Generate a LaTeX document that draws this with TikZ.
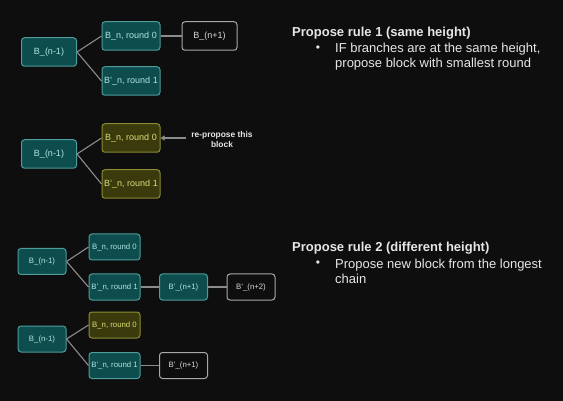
\documentclass[tikz,border=0pt]{standalone}
\usepackage{fontspec}
\setmainfont{Liberation Sans}
\usetikzlibrary{arrows.meta}
\definecolor{bg}{HTML}{0E0E0E}
\definecolor{tealfill}{HTML}{0E4D4D}
\definecolor{tealline}{HTML}{4E9C9C}
\definecolor{tealtext}{HTML}{B0E4E4}
\definecolor{yelfill}{HTML}{3A3A0C}
\definecolor{yelline}{HTML}{8C8C34}
\definecolor{yeltext}{HTML}{DEDE78}
\definecolor{blkline}{HTML}{A8A8A8}
\definecolor{blktext}{HTML}{D8D8D8}
\definecolor{edgecol}{HTML}{8C8C8C}
\definecolor{txt}{HTML}{E6E6E6}
\tikzset{
  x=1pt,y=-1pt,
  blk/.style={rectangle,rounded corners=3pt,line width=1pt,inner sep=0pt,font=\fontsize{9}{10}\selectfont},
  big/.style={minimum width=55pt,minimum height=28.5pt},
  small/.style={minimum width=48pt,minimum height=26pt,font=\fontsize{7.8}{9}\selectfont},
  tealb/.style={blk,draw=tealline,fill=tealfill,text=tealtext},
  yelb/.style={blk,draw=yelline,fill=yelfill,text=yeltext},
  blkb/.style={blk,draw=blkline,fill=bg,text=blktext},
  conn/.style={draw=edgecol,line width=1.1pt},
  head/.style={anchor=west,text=txt,inner sep=0pt,font=\fontsize{13}{15}\selectfont\bfseries},
  body/.style={anchor=west,text=txt,inner sep=0pt,font=\fontsize{13}{15}\selectfont,align=left},
}
\begin{document}
\begin{tikzpicture}
\fill[bg] (0,0) rectangle (563,401);
\useasboundingbox (0,0) rectangle (563,401);
% group 1
\node[tealb,big] (a1) at (49,52) {B\_(n-1)};
\node[tealb,big,minimum width=58pt] (b1) at (131,36) {B\_n, round 0};
\node[tealb,big,minimum width=58pt] (c1) at (131,81) {B'\_n, round 1};
\node[blkb,big] (d1) at (209.5,36) {B\_(n+1)};
\draw[conn] (a1.east) -- (b1.west);
\draw[conn] (a1.east) -- (c1.west);
\draw[conn] (b1) -- (d1);
% group 2
\node[tealb,big] (a2) at (49,154) {B\_(n-1)};
\node[yelb,big,minimum width=58pt] (b2) at (131,138) {B\_n, round 0};
\node[yelb,big,minimum width=58pt] (c2) at (131,184) {B'\_n, round 1};
\draw[conn] (a2.east) -- (b2.west);
\draw[conn] (a2.east) -- (c2.west);
\node[text=txt,inner sep=0pt,font=\fontsize{8.4}{10}\selectfont\bfseries,align=center] (lab) at (222,139) {re-propose this\\block};
\draw[conn,line width=1.4pt,-{Triangle[width=5pt,length=4pt]}] (lab.west) ++(-5,-1) coordinate (labs) (labs) -- (b2.east);
% group 3
\node[tealb,small] (a3) at (42,261.5) {B\_(n-1)};
\node[tealb,small,minimum width=51pt] (b3) at (114.5,247) {B\_n, round 0};
\node[tealb,small,minimum width=51pt] (c3) at (114.5,287) {B'\_n, round 1};
\node[tealb,small] (d3) at (183.5,287) {B'\_(n+1)};
\node[blkb,small] (e3) at (251,287) {B'\_(n+2)};
\draw[conn] (a3.east) -- (b3.west);
\draw[conn] (a3.east) -- (c3.west);
\draw[conn] (c3) -- (d3);
\draw[conn] (d3) -- (e3);
% group 4
\node[tealb,small] (a4) at (42,339) {B\_(n-1)};
\node[yelb,small,minimum width=51pt] (b4) at (114.5,325) {B\_n, round 0};
\node[tealb,small,minimum width=51pt] (c4) at (114.5,365.5) {B'\_n, round 1};
\node[blkb,small] (d4) at (183.5,365.5) {B'\_(n+1)};
\draw[conn] (a4.east) -- (b4.west);
\draw[conn] (a4.east) -- (c4.west);
\draw[conn] (c4) -- (d4);
% rules text
\node[head] (h1) at (292,33) {Propose rule 1 (same height)};
\node[text=txt,font=\fontsize{12}{13}\selectfont] (bu1) at (318,49) {•};
\node[body] (t1) at (335,56.5) {IF branches are at the same height,\\propose block with smallest round};
\node[head] (h2) at (292,248) {Propose rule 2 (different height)};
\node[text=txt,font=\fontsize{12}{13}\selectfont] (bu2) at (318,264) {•};
\node[body] (t2) at (335,271) {Propose new block from the longest\\chain};
\end{tikzpicture}
\end{document}
